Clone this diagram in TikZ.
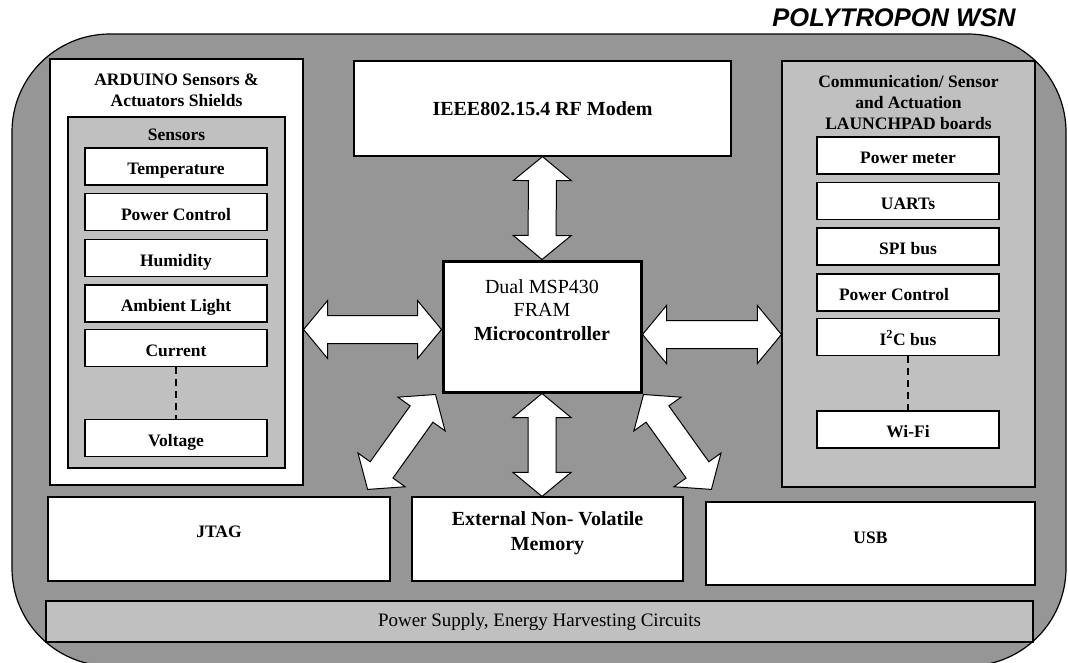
\documentclass[tikz,border=0pt]{standalone}
\usepackage{fontspec}
\setmainfont{Liberation Serif}
\newfontfamily\titlefont{Liberation Sans}
\usepackage{tikz}
\usetikzlibrary{calc}

\definecolor{bggray}{RGB}{150,150,150}
\definecolor{panelgray}{RGB}{192,192,192}

\def\arrhead{24pt}
\def\arrwide{29pt}
\def\arrshaft{14pt}
\newcommand{\dblarrow}[2]{%
  \draw[blockarrow] let \p1=#1, \p2=#2, \n1={atan2(\y2-\y1,\x2-\x1)} in
    (\p1) -- ($(\p1)+(\n1:\arrhead)+(\n1+90:\arrwide)$) -- ($(\p1)+(\n1:\arrhead)+(\n1+90:\arrshaft)$)
    -- ($(\p2)+(\n1+180:\arrhead)+(\n1+90:\arrshaft)$) -- ($(\p2)+(\n1+180:\arrhead)+(\n1+90:\arrwide)$)
    -- (\p2)
    -- ($(\p2)+(\n1+180:\arrhead)+(\n1-90:\arrwide)$) -- ($(\p2)+(\n1+180:\arrhead)+(\n1-90:\arrshaft)$)
    -- ($(\p1)+(\n1:\arrhead)+(\n1-90:\arrshaft)$) -- ($(\p1)+(\n1:\arrhead)+(\n1-90:\arrwide)$) -- cycle;}

\begin{document}
\begin{tikzpicture}
  [x=1pt,y=-1pt,
   every node/.style={inner sep=0pt,font=\fontsize{17.5}{21}\selectfont\bfseries},
   box/.style={draw,line width=1.2pt,fill=white},
   panel/.style={draw,line width=1.2pt,fill=panelgray},
   item/.style={box,minimum width=182pt,minimum height=37pt,text height=16pt,text depth=0pt},
   dashline/.style={line width=1.5pt,dash pattern=on 7pt off 5pt},
   blockarrow/.style={draw,line width=1pt,fill=white,line join=miter}]
  \useasboundingbox (0,0) rectangle (1068,662);
  \draw[line width=1.2pt,fill=bggray,rounded corners=98pt] (12,34) rectangle (1066,666);
  \node[font=\titlefont\bfseries\itshape\fontsize{25.5}{29}\selectfont] (title) at (894,18) {POLYTROPON WSN};

  % arduino shields
  \node[box,minimum width=253pt,minimum height=426pt] (ardu) at (176.5,272) {};
  \node[align=center] (arduhead) at (176.5,90) {ARDUINO Sensors \&\\Actuators Shields};
  \node[panel,minimum width=217pt,minimum height=351pt] (sens) at (176.5,292.5) {};
  \node (senshead) at (176.5,135) {Sensors};
  \foreach \name/\y/\txt in {temp/166.5/Temperature,pctl/212/Power Control,hum/258/Humidity,amb/303.5/Ambient Light,cur/348/Current,volt/438/Voltage}
    \node[item] (\name) at (176,\y) {\txt};
  \draw[dashline] (cur) -- (volt);

  % launchpad boards
  \node[panel,minimum width=253pt,minimum height=426pt] (launch) at (908.5,274) {};
  \node[align=center] (launchhead) at (908.5,103) {Communication/ Sensor\\and Actuation\\LAUNCHPAD boards};
  \foreach \name/\y/\txt in {pmet/155.5/Power meter,uart/201/UARTs,spi/246.5/SPI bus,rpctl/292.5/Power Control\kern28pt,iic/337/I\textsuperscript{2}C bus,wifi/429.5/Wi-Fi}
    \node[item] (\name) at (908,\y) {\txt};
  \draw[dashline] (iic) -- (wifi);

  % modem and microcontroller
  \node[box,minimum width=377pt,minimum height=95pt,font=\fontsize{20}{24}\selectfont\bfseries] (modem) at (542.5,108.5) {IEEE802.15.4 RF Modem};
  \node[box,line width=3pt,minimum width=198pt,minimum height=131pt] (mcu) at (542,326.5) {};
  \node[align=center,font=\fontsize{20}{23.5}\selectfont] (mcutext) at (542,310) {Dual MSP430\\FRAM\\\textbf{Microcontroller}};

  % bottom row
  \node[box,minimum width=342pt,minimum height=84pt] (jtag) at (219,539) {};
  \node (jtagtext) at ($(jtag)+(0,-7)$) {JTAG};
  \node[box,minimum width=271pt,minimum height=84pt] (mem) at (547.5,539) {};
  \node[align=center,font=\fontsize{20}{25}\selectfont\bfseries] (memtext) at ($(mem)+(0,-6)$) {External Non- Volatile\\Memory};
  \node[box,minimum width=329pt,minimum height=83pt] (usb) at (870.5,543.5) {};
  \node (usbtext) at ($(usb)+(0,-6)$) {USB};
  \node[panel,minimum width=987pt,minimum height=41pt,font=\fontsize{19}{23}\selectfont] (power) at (539.5,621.5) {Power Supply, Energy Harvesting Circuits};

  % block arrows
  \dblarrow{(modem.south)}{(mcu.north)}
  \dblarrow{($(ardu.east |- mcu.west)+(0,3)$)}{($(mcu.west)+(0,3)$)}
  \dblarrow{($(mcu.east)+(0,8)$)}{($(mcu.east -| launch.west)+(0,8)$)}
  \dblarrow{(mcu.south)}{(mcu.south |- mem.north)}
  \dblarrow{($(mcu.south west)+(-6,1)$)}{($(jtag.north east)+(-23,-7)$)}
  \dblarrow{($(mcu.south east)+(1,1)$)}{($(usb.north west)+(6,-12)$)}
\end{tikzpicture}
\end{document}
